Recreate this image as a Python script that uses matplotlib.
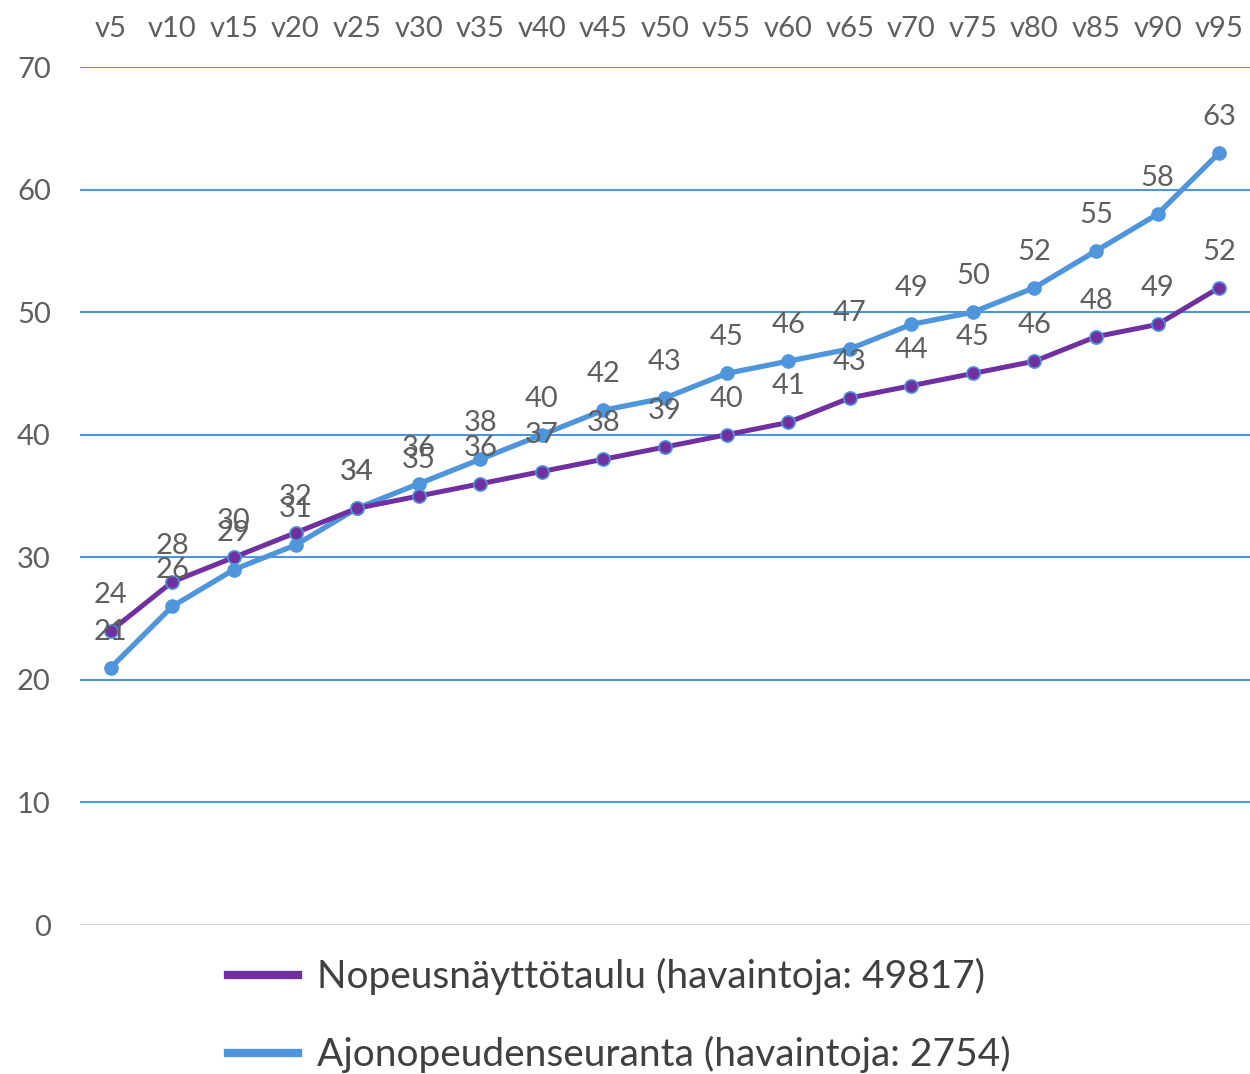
import matplotlib
matplotlib.use("Agg")
import matplotlib.pyplot as plt
from matplotlib.lines import Line2D

categories = ["v5", "v10", "v15", "v20", "v25", "v30", "v35", "v40", "v45", "v50",
              "v55", "v60", "v65", "v70", "v75", "v80", "v85", "v90", "v95"]
nopeus = [24, 28, 30, 32, 34, 35, 36, 37, 38, 39, 40, 41, 43, 44, 45, 46, 48, 49, 52]
ajo = [21, 26, 29, 31, 34, 36, 38, 40, 42, 43, 45, 46, 47, 49, 50, 52, 55, 58, 63]
series_names = ["Nopeusnäyttötaulu (havaintoja: 49817)", "Ajonopeudenseuranta (havaintoja: 2754)"]
yticks = [0, 10, 20, 30, 40, 50, 60, 70]

PURPLE = "#7030A0"
BLUE = "#4E95DC"
GRAY = "#5F5F5F"

plt.rcParams['font.family'] = ['Lato', 'DejaVu Sans']

fig = plt.figure(figsize=(12.5, 10.74), dpi=100)
ax = fig.add_axes([0.064, 0.1387, 0.936, 0.7989])

x = list(range(len(categories)))
ax.plot(x, ajo, color=BLUE, lw=3.8, marker='o', ms=9.5, mfc=BLUE, mec=BLUE, zorder=3,
        solid_capstyle='round')
ax.plot(x, nopeus, color=PURPLE, lw=3.6, marker='o', ms=9.5, mfc=PURPLE, mec=BLUE, mew=1.2,
        zorder=4, solid_capstyle='round')

for xi, v in zip(x, ajo):
    ax.annotate(str(v), (xi, v), xytext=(0, 26), textcoords='offset points',
                ha='center', va='center', fontsize=21, color=GRAY, zorder=5)
for xi, v in zip(x, nopeus):
    ax.annotate(str(v), (xi, v), xytext=(0, 26), textcoords='offset points',
                ha='center', va='center', fontsize=21, color=GRAY, zorder=5)

ax.set_xlim(-0.5, len(categories) - 0.5)
ax.set_ylim(0, 70)
ax.set_yticks(yticks)
ax.set_xticks(x)
ax.set_xticklabels(categories)
ax.xaxis.tick_top()
ax.tick_params(axis='both', length=0, labelsize=21, labelcolor=GRAY)
ax.tick_params(axis='x', pad=18)
ax.tick_params(axis='y', pad=21)
for s in ax.spines.values():
    s.set_visible(False)
for t in yticks:
    ax.axhline(t, color=BLUE if t > 0 else "#D9D9D9", lw=1.5, zorder=1)

handles = [Line2D([0], [0], color=PURPLE, lw=6), Line2D([0], [0], color=BLUE, lw=6)]
fig.legend(handles, series_names, loc='upper left', bbox_to_anchor=(0.182, 0.108),
           frameon=False, fontsize=28, labelcolor="#404040", handlelength=1.8,
           handletextpad=0.5, labelspacing=1.05, borderpad=0, borderaxespad=0)

fig.savefig("out.png", dpi=100)
